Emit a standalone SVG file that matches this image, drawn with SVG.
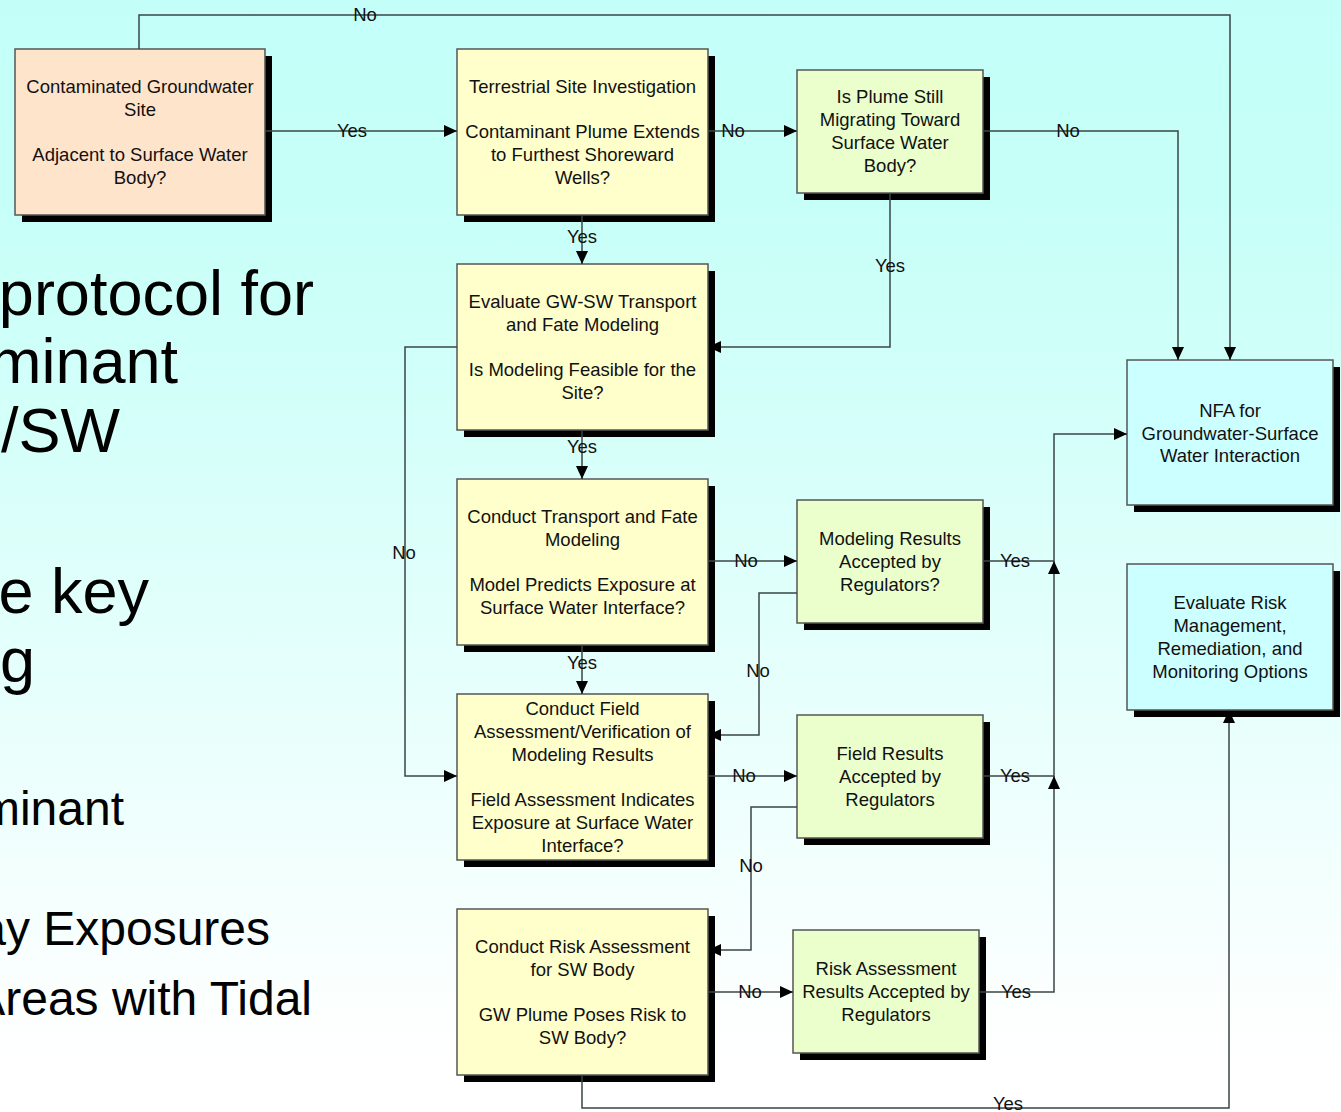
<svg xmlns="http://www.w3.org/2000/svg" width="1341" height="1112" viewBox="0 0 1341 1112">
<defs>
<linearGradient id="bg" x1="0" y1="0" x2="0" y2="1">
<stop offset="0" stop-color="#C3FFF8"/>
<stop offset="0.18" stop-color="#C6FFF8"/>
<stop offset="0.95" stop-color="#FFFFFF"/>
<stop offset="1" stop-color="#FFFFFF"/>
</linearGradient>
<marker id="arr" markerUnits="userSpaceOnUse" markerWidth="13" markerHeight="12" refX="13" refY="6" orient="auto">
<path d="M0,0 L13,6 L0,12 z" fill="#000"/>
</marker>
<style>
.shadow{fill:#000}
.box{stroke:#555;stroke-width:1.5}
.peach{fill:#FFE4CC}
.yellow{fill:#FFFFCC}
.green{fill:#EAFFCC}
.cyan{fill:#CCFFFF}
.t{font-family:"Liberation Sans",Arial,sans-serif;font-size:18.5px;fill:#111;text-anchor:middle}
.big{font-family:"Liberation Sans",Arial,sans-serif;font-size:63px;fill:#000;text-anchor:end}
.mid{font-family:"Liberation Sans",Arial,sans-serif;font-size:48px;fill:#000;text-anchor:end}
.c{fill:none;stroke:#3a4646;stroke-width:1.5;marker-end:url(#arr)}
.lbl{font-family:"Liberation Sans",Arial,sans-serif;font-size:18.5px;fill:#111;text-anchor:middle}
</style>
</defs>
<rect x="0" y="0" width="1341" height="1112" fill="url(#bg)"/>

<g id="background-text">
<text class="big" x="314" y="315">protocol for</text>
<text class="big" x="178" y="383">minant</text>
<text class="big" x="120" y="452">/SW</text>
<text class="big" x="149" y="613">e key</text>
<text class="big" x="35" y="682">g</text>
<text class="mid" x="124" y="825">minant</text>
<text class="mid" x="270" y="945">ay Exposures</text>
<text class="mid" x="312" y="1015">Areas with Tidal</text>
</g>

<g id="node-contaminated-site">
<rect class="shadow" x="22" y="56" width="250" height="166"/>
<rect class="box peach" x="15" y="49" width="250" height="166"/>
<text class="t" x="140"><tspan x="140" y="93">Contaminated Groundwater</tspan><tspan x="140" y="116">Site</tspan><tspan x="140" y="161">Adjacent to Surface Water</tspan><tspan x="140" y="184">Body?</tspan></text>
</g>

<g id="node-terrestrial">
<rect class="shadow" x="464" y="56" width="251" height="166"/>
<rect class="box yellow" x="457" y="49" width="251" height="166"/>
<text class="t" x="582.5"><tspan x="582.5" y="93">Terrestrial Site Investigation</tspan><tspan x="582.5" y="138">Contaminant Plume Extends</tspan><tspan x="582.5" y="161">to Furthest Shoreward</tspan><tspan x="582.5" y="184">Wells?</tspan></text>
</g>

<g id="node-plume-migrating">
<rect class="shadow" x="804" y="77" width="186" height="123"/>
<rect class="box green" x="797" y="70" width="186" height="123"/>
<text class="t" x="890"><tspan x="890" y="103">Is Plume Still</tspan><tspan x="890" y="126">Migrating Toward</tspan><tspan x="890" y="149">Surface Water</tspan><tspan x="890" y="172">Body?</tspan></text>
</g>

<g id="node-evaluate-modeling">
<rect class="shadow" x="464" y="271" width="251" height="166"/>
<rect class="box yellow" x="457" y="264" width="251" height="166"/>
<text class="t" x="582.5"><tspan x="582.5" y="307.5">Evaluate GW-SW Transport</tspan><tspan x="582.5" y="330.5">and Fate Modeling</tspan><tspan x="582.5" y="375.5">Is Modeling Feasible for the</tspan><tspan x="582.5" y="398.5">Site?</tspan></text>
</g>

<g id="node-conduct-modeling">
<rect class="shadow" x="464" y="486" width="251" height="166"/>
<rect class="box yellow" x="457" y="479" width="251" height="166"/>
<text class="t" x="582.5"><tspan x="582.5" y="522.5">Conduct Transport and Fate</tspan><tspan x="582.5" y="545.5">Modeling</tspan><tspan x="582.5" y="590.5">Model Predicts Exposure at</tspan><tspan x="582.5" y="613.5">Surface Water Interface?</tspan></text>
</g>

<g id="node-field-assessment">
<rect class="shadow" x="464" y="701" width="251" height="166"/>
<rect class="box yellow" x="457" y="694" width="251" height="166"/>
<text class="t" x="582.5"><tspan x="582.5" y="715">Conduct Field</tspan><tspan x="582.5" y="738">Assessment/Verification of</tspan><tspan x="582.5" y="761">Modeling Results</tspan><tspan x="582.5" y="806">Field Assessment Indicates</tspan><tspan x="582.5" y="829">Exposure at Surface Water</tspan><tspan x="582.5" y="852">Interface?</tspan></text>
</g>

<g id="node-risk-assessment">
<rect class="shadow" x="464" y="916" width="251" height="166"/>
<rect class="box yellow" x="457" y="909" width="251" height="166"/>
<text class="t" x="582.5"><tspan x="582.5" y="952.5">Conduct Risk Assessment</tspan><tspan x="582.5" y="975.5">for SW Body</tspan><tspan x="582.5" y="1020.5">GW Plume Poses Risk to</tspan><tspan x="582.5" y="1043.5">SW Body?</tspan></text>
</g>

<g id="node-modeling-accepted">
<rect class="shadow" x="804" y="507" width="186" height="123"/>
<rect class="box green" x="797" y="500" width="186" height="123"/>
<text class="t" x="890"><tspan x="890" y="545">Modeling Results</tspan><tspan x="890" y="568">Accepted by</tspan><tspan x="890" y="591">Regulators?</tspan></text>
</g>

<g id="node-field-accepted">
<rect class="shadow" x="804" y="722" width="186" height="123"/>
<rect class="box green" x="797" y="715" width="186" height="123"/>
<text class="t" x="890"><tspan x="890" y="760">Field Results</tspan><tspan x="890" y="783">Accepted by</tspan><tspan x="890" y="806">Regulators</tspan></text>
</g>

<g id="node-risk-accepted">
<rect class="shadow" x="800" y="937" width="186" height="123"/>
<rect class="box green" x="793" y="930" width="186" height="123"/>
<text class="t" x="886"><tspan x="886" y="975">Risk Assessment</tspan><tspan x="886" y="998">Results Accepted by</tspan><tspan x="886" y="1021">Regulators</tspan></text>
</g>

<g id="node-nfa">
<rect class="shadow" x="1134" y="367" width="206" height="145"/>
<rect class="box cyan" x="1127" y="360" width="206" height="145"/>
<text class="t" x="1230"><tspan x="1230" y="417">NFA for</tspan><tspan x="1230" y="440">Groundwater-Surface</tspan><tspan x="1230" y="462">Water Interaction</tspan></text>
</g>

<g id="node-evaluate-risk">
<rect class="shadow" x="1134" y="571" width="206" height="146"/>
<rect class="box cyan" x="1127" y="564" width="206" height="146"/>
<text class="t" x="1230"><tspan x="1230" y="609">Evaluate Risk</tspan><tspan x="1230" y="632">Management,</tspan><tspan x="1230" y="655">Remediation, and</tspan><tspan x="1230" y="678">Monitoring Options</tspan></text>
</g>

<g id="connectors">
<path class="c" d="M139,49 V15 H1230 V360"/>
<path class="c" d="M265,131 H457"/>
<path class="c" d="M708,131 H797"/>
<path class="c" d="M983,131 H1178 V360"/>
<path class="c" d="M582,215 V264"/>
<path class="c" d="M890,193 V347 H708"/>
<path class="c" d="M457,347 H405 V776 H457"/>
<path class="c" d="M582,430 V479"/>
<path class="c" d="M708,561 H797"/>
<path class="c" d="M797,593 H759 V735 H708"/>
<path class="c" d="M983,561 H1054 V434 H1127"/>
<path class="c" d="M582,645 V694"/>
<path class="c" d="M708,776 H797"/>
<path class="c" d="M797,807 H751 V950 H708"/>
<path class="c" d="M983,776 H1054 V561"/>
<path class="c" d="M582,1075 V1108 H1229 V710"/>
<path class="c" d="M708,992 H793"/>
<path class="c" d="M979,992 H1054 V776"/>
<text class="lbl" x="365" y="21">No</text>
<text class="lbl" x="352" y="137">Yes</text>
<text class="lbl" x="733" y="137">No</text>
<text class="lbl" x="1068" y="137">No</text>
<text class="lbl" x="582" y="243">Yes</text>
<text class="lbl" x="890" y="272">Yes</text>
<text class="lbl" x="404" y="559">No</text>
<text class="lbl" x="582" y="453">Yes</text>
<text class="lbl" x="746" y="567">No</text>
<text class="lbl" x="758" y="677">No</text>
<text class="lbl" x="1015" y="567">Yes</text>
<text class="lbl" x="582" y="669">Yes</text>
<text class="lbl" x="744" y="782">No</text>
<text class="lbl" x="751" y="872">No</text>
<text class="lbl" x="1015" y="782">Yes</text>
<text class="lbl" x="1008" y="1110">Yes</text>
<text class="lbl" x="750" y="998">No</text>
<text class="lbl" x="1016" y="998">Yes</text>
</g>
</svg>
